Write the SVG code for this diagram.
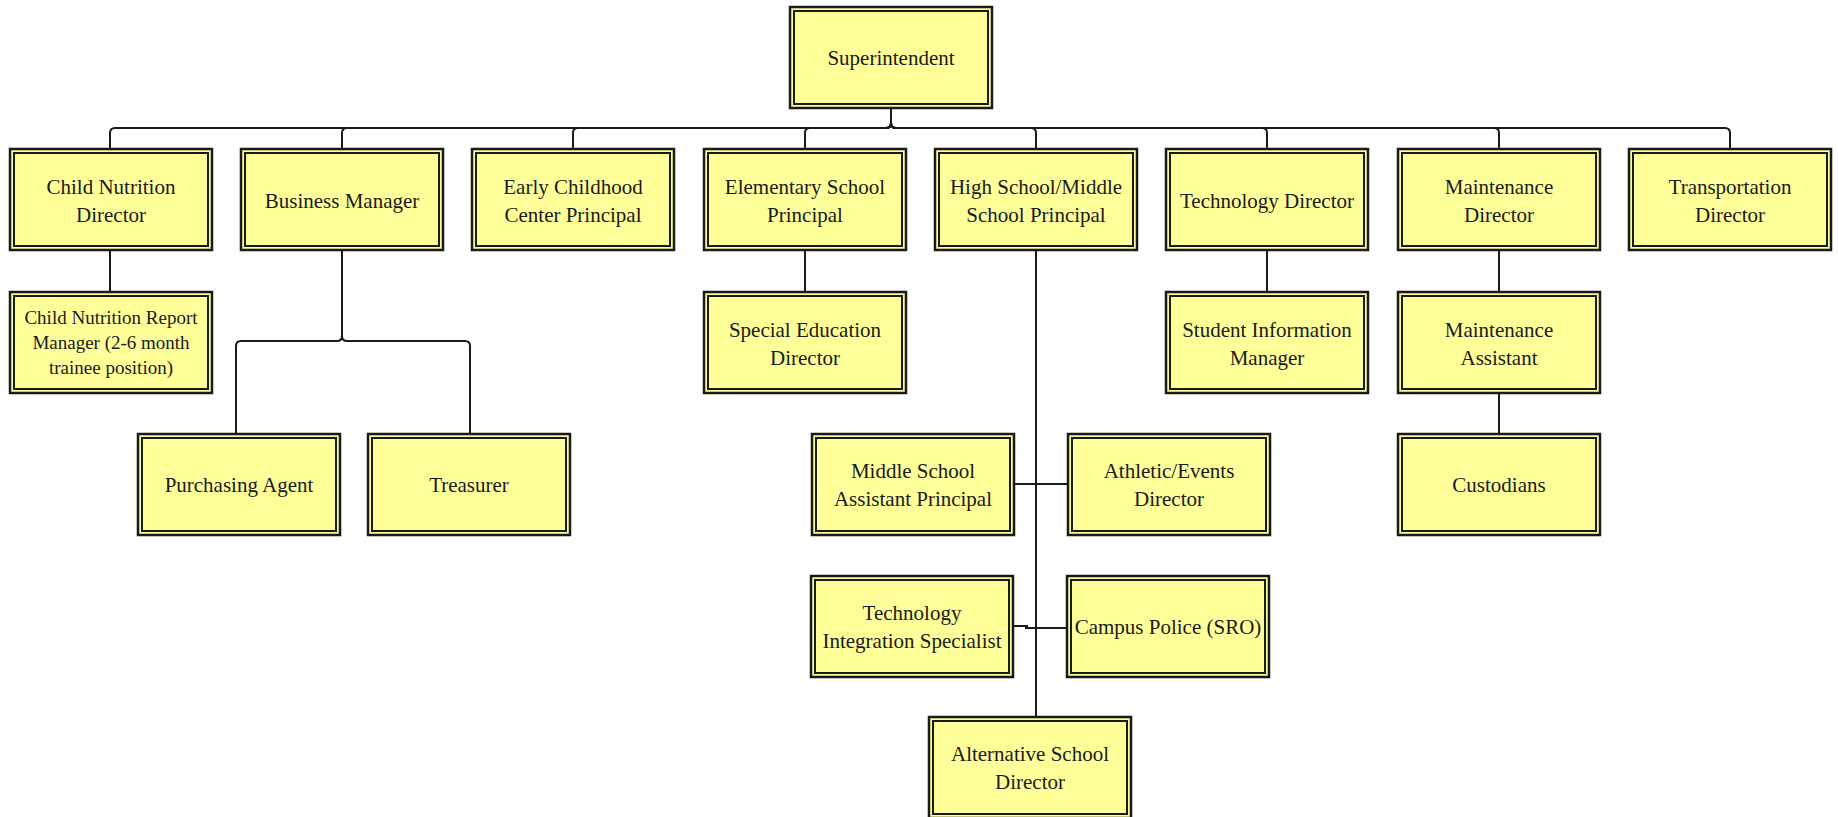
<svg xmlns="http://www.w3.org/2000/svg" width="1838" height="817" viewBox="0 0 1838 817">
  <style>
    .box { fill: #ffff99; stroke: #1a1a1a; stroke-width: 2.5; }
    .inner { fill: none; stroke: #1a1a1a; stroke-width: 2; }
    .lbl { font-family: "Liberation Serif", "Times New Roman", serif; font-size: 21px; fill: #1a1a1a; text-anchor: middle; }
    .sm { font-size: 19px; }
    .conn path { fill: none; stroke: #1a1a1a; stroke-width: 2; }
  </style>
  <defs>
    <!-- double-ruled org-chart box, 202 x 101 -->
    <g id="card">
      <rect class="box" x="0" y="0" width="202" height="101"/>
      <rect class="inner" x="4" y="4" width="194" height="93"/>
    </g>
  </defs>
  <rect width="1838" height="817" fill="#ffffff"/>

  <g id="connectors" class="conn">
    <!-- Superintendent to the top row -->
    <path d="M891 108 V123 Q891 128 886 128 H115 Q110 128 110 133 V149"/>
    <path d="M891 108 V123 Q891 128 886 128 H347 Q342 128 342 133 V149"/>
    <path d="M891 108 V123 Q891 128 886 128 H578 Q573 128 573 133 V149"/>
    <path d="M891 108 V123 Q891 128 886 128 H810 Q805 128 805 133 V149"/>
    <path d="M891 108 V123 Q891 128 896 128 H1031 Q1036 128 1036 133 V149"/>
    <path d="M891 108 V123 Q891 128 896 128 H1262 Q1267 128 1267 133 V149"/>
    <path d="M891 108 V123 Q891 128 896 128 H1494 Q1499 128 1499 133 V149"/>
    <path d="M891 108 V123 Q891 128 896 128 H1725 Q1730 128 1730 133 V149"/>
    <!-- Child Nutrition -->
    <path d="M110 251 V292"/>
    <!-- Business Manager -->
    <path d="M342 251 V336 Q342 341 337 341 H241 Q236 341 236 346 V434"/>
    <path d="M342 251 V336 Q342 341 347 341 H465 Q470 341 470 346 V434"/>
    <!-- Elementary -->
    <path d="M805 251 V292"/>
    <!-- High School / Middle School -->
    <path d="M1036 251 V717"/>
    <path d="M1013 484 H1068"/>
    <path d="M1013 626 H1028"/>
    <path d="M1025 628 H1067"/>
    <!-- Technology -->
    <path d="M1267 251 V292"/>
    <!-- Maintenance -->
    <path d="M1499 251 V292"/>
    <path d="M1499 393 V434"/>
  </g>

  <g id="superintendent">
    <use href="#card" x="790" y="7"/>
    <text class="lbl" x="891" y="65">Superintendent</text>
  </g>

  <g id="child-nutrition-director">
    <use href="#card" x="10" y="149"/>
    <text class="lbl" x="111" y="194">Child Nutrition</text>
    <text class="lbl" x="111" y="222">Director</text>
  </g>
  <g id="business-manager">
    <use href="#card" x="241" y="149"/>
    <text class="lbl" x="342" y="208">Business Manager</text>
  </g>
  <g id="early-childhood">
    <use href="#card" x="472" y="149"/>
    <text class="lbl" x="573" y="194">Early Childhood</text>
    <text class="lbl" x="573" y="222">Center Principal</text>
  </g>
  <g id="elementary-principal">
    <use href="#card" x="704" y="149"/>
    <text class="lbl" x="805" y="194">Elementary School</text>
    <text class="lbl" x="805" y="222">Principal</text>
  </g>
  <g id="high-middle-principal">
    <use href="#card" x="935" y="149"/>
    <text class="lbl" x="1036" y="194">High School/Middle</text>
    <text class="lbl" x="1036" y="222">School Principal</text>
  </g>
  <g id="technology-director">
    <use href="#card" x="1166" y="149"/>
    <text class="lbl" x="1267" y="208">Technology Director</text>
  </g>
  <g id="maintenance-director">
    <use href="#card" x="1398" y="149"/>
    <text class="lbl" x="1499" y="194">Maintenance</text>
    <text class="lbl" x="1499" y="222">Director</text>
  </g>
  <g id="transportation-director">
    <use href="#card" x="1629" y="149"/>
    <text class="lbl" x="1730" y="194">Transportation</text>
    <text class="lbl" x="1730" y="222">Director</text>
  </g>

  <g id="child-nutrition-report-manager">
    <use href="#card" x="10" y="292"/>
    <text class="lbl sm" x="111" y="324">Child Nutrition Report</text>
    <text class="lbl sm" x="111" y="349">Manager (2-6 month</text>
    <text class="lbl sm" x="111" y="374">trainee position)</text>
  </g>
  <g id="special-education-director">
    <use href="#card" x="704" y="292"/>
    <text class="lbl" x="805" y="337">Special Education</text>
    <text class="lbl" x="805" y="365">Director</text>
  </g>
  <g id="student-information-manager">
    <use href="#card" x="1166" y="292"/>
    <text class="lbl" x="1267" y="337">Student Information</text>
    <text class="lbl" x="1267" y="365">Manager</text>
  </g>
  <g id="maintenance-assistant">
    <use href="#card" x="1398" y="292"/>
    <text class="lbl" x="1499" y="337">Maintenance</text>
    <text class="lbl" x="1499" y="365">Assistant</text>
  </g>

  <g id="purchasing-agent">
    <use href="#card" x="138" y="434"/>
    <text class="lbl" x="239" y="492">Purchasing Agent</text>
  </g>
  <g id="treasurer">
    <use href="#card" x="368" y="434"/>
    <text class="lbl" x="469" y="492">Treasurer</text>
  </g>
  <g id="middle-school-assistant-principal">
    <use href="#card" x="812" y="434"/>
    <text class="lbl" x="913" y="478">Middle School</text>
    <text class="lbl" x="913" y="506">Assistant Principal</text>
  </g>
  <g id="athletic-events-director">
    <use href="#card" x="1068" y="434"/>
    <text class="lbl" x="1169" y="478">Athletic/Events</text>
    <text class="lbl" x="1169" y="506">Director</text>
  </g>
  <g id="custodians">
    <use href="#card" x="1398" y="434"/>
    <text class="lbl" x="1499" y="492">Custodians</text>
  </g>

  <g id="technology-integration-specialist">
    <use href="#card" x="811" y="576"/>
    <text class="lbl" x="912" y="620">Technology</text>
    <text class="lbl" x="912" y="648">Integration Specialist</text>
  </g>
  <g id="campus-police">
    <use href="#card" x="1067" y="576"/>
    <text class="lbl" x="1168" y="634">Campus Police (SRO)</text>
  </g>

  <g id="alternative-school-director">
    <use href="#card" x="929" y="717"/>
    <text class="lbl" x="1030" y="761">Alternative School</text>
    <text class="lbl" x="1030" y="789">Director</text>
  </g>
</svg>
